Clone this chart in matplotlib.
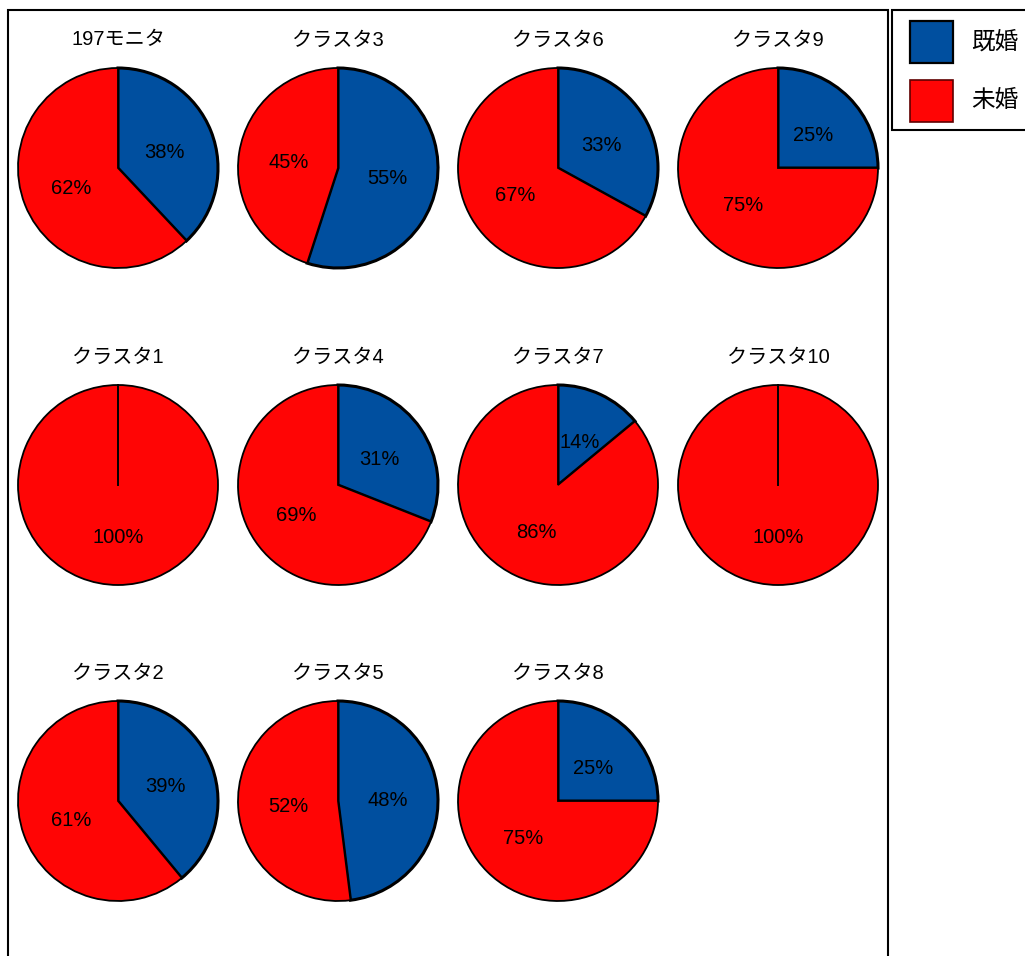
import numpy as np
import matplotlib
matplotlib.use('Agg')
from matplotlib import pyplot as plt
from matplotlib.patches import Rectangle

plt.rcParams['font.family'] = ['Liberation Sans', 'Noto Sans CJK JP', 'DejaVu Sans']

# data (既婚 / 未婚 in %)
titles = ['197モニタ', 'クラスタ3', 'クラスタ6', 'クラスタ9',
          'クラスタ1', 'クラスタ4', 'クラスタ7', 'クラスタ10',
          'クラスタ2', 'クラスタ5', 'クラスタ8']
married = [38, 55, 33, 25, 0, 31, 14, 0, 39, 48, 25]
unmarried = [62, 45, 67, 75, 100, 69, 86, 100, 61, 52, 75]
labels = ['既婚', '未婚']

col_blue = '#004F9F'
col_red = '#FF0505'
colors = [col_blue, col_red]

W, H = 1025, 956
fig = plt.figure(figsize=(W / 100, H / 100), dpi=100, facecolor='w')

# pie centres in pixels
col_x = [118, 338, 558, 778]
row_y = [168, 485, 801]
box = 250  # axes size in px, pie radius = 100 px with +-1.25 limits


def pct_label(p):
    return '%.0f%%' % p if p > 0.5 else ''


for i, title in enumerate(titles):
    cx = col_x[i % 4]
    cy = row_y[i // 4]
    ax = fig.add_axes([(cx - box / 2) / W, 1 - (cy + box / 2) / H, box / W, box / H])
    wedges, texts, autotexts = ax.pie([married[i], unmarried[i]], colors=colors,
                                      startangle=90, counterclock=False, radius=1.0,
                                      autopct=pct_label, pctdistance=0.5,
                                      textprops={'fontsize': 14.5})
    wedges[0].set_edgecolor('black')
    wedges[0].set_linewidth(2.2)
    wedges[1].set_edgecolor('black')
    wedges[1].set_linewidth(1.3)
    # nudge labels down a touch, like the original
    for t in autotexts:
        t.set_y(t.get_position()[1] - 0.025)
    # empty wedge: matplotlib draws nothing, so put the start edge in by hand
    if married[i] == 0:
        a = np.deg2rad(wedges[0].theta1)
        r = wedges[0].r
        ax.plot([0, r * np.cos(a)], [0, r * np.sin(a)], color='black', lw=1.4)
    ax.set_xlim(-1.25, 1.25)
    ax.set_ylim(-1.25, 1.25)
    ax.axis('off')
    ax.text(0, 1.28, title, ha='center', va='center', fontsize=14.5)

# outer frame (runs off the bottom of the image)
fig.add_artist(Rectangle((8 / W, -0.05), 880 / W, 1.05 - 10 / H, transform=fig.transFigure,
                         fill=False, edgecolor='black', lw=1.5))

# legend box (drawn by hand, runs off the right edge)
fig.add_artist(Rectangle((892 / W, 1 - 130 / H), 0.2, 120 / H, transform=fig.transFigure,
                         fill=True, facecolor='white', edgecolor='black', lw=1.5))
for k, lab in enumerate(labels):
    top = 21 + k * 59
    fig.add_artist(Rectangle((910 / W, 1 - (top + 42) / H), 43 / W, 42 / H,
                             transform=fig.transFigure, facecolor=colors[k],
                             edgecolor='black' if k == 0 else '#600000', lw=1.6 if k == 0 else 1.2))
    fig.text(971 / W, 1 - (top + 21) / H, lab, ha='left', va='center', fontsize=17)

fig.savefig('out.png', dpi=100)
